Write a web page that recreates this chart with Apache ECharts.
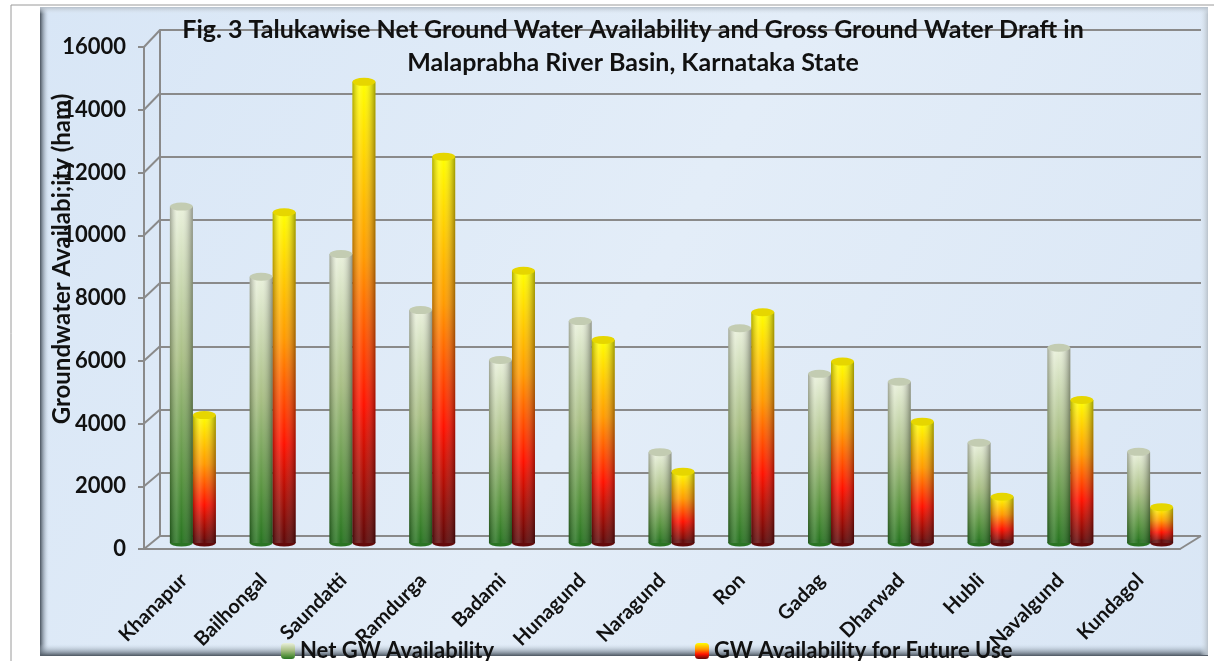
<!DOCTYPE html>
<html>
<head>
<meta charset="utf-8">
<script src="https://cdn.jsdelivr.net/npm/echarts@6/dist/echarts.min.js"></script>
<style>
  html, body { margin: 0; padding: 0; background: #fff; }
  #chart { width: 1214px; height: 661px; }
</style>
</head>
<body>
<div id="chart"></div>
<script>
const talukas = ["Khanapur", "Bailhongal", "Saundatti", "Ramdurga", "Badami", "Hunagund", "Naragund",
  "Ron", "Gadag", "Dharwad", "Hubli", "Navalgund", "Kundagol"];
const netAvailability = [10700, 8470, 9190, 7410, 5820, 7060, 2890, 6830, 5380, 5130, 3190, 6210, 2900];
const futureUse = [4070, 10520, 14670, 12290, 8660, 6460, 2270, 7340, 5770, 3860, 1470, 4550, 1140];
const yTicks = [0, 2000, 4000, 6000, 8000, 10000, 12000, 14000, 16000];

const W = 1214, H = 661;
// pseudo 3d: back wall, front axis, bars in the middle
const BACK = { left: 160, right: 13, top: 30, bottom: 125 };
const FRONT = { left: 144, right: 34, top: 47, bottom: 112 };
const MID = { left: 153, right: 24, top: 40, bottom: 118 };
const gridColor = "#8a8a8a";
const font = "Lato";

function linear(x2, y2, stops) {
  return { type: "linear", x: 0, y: 0, x2: x2, y2: y2, colorStops: stops, global: false };
}
const greenFill = linear(0, 1, [
  { offset: 0, color: "#eaf1dc" },
  { offset: 0.45, color: "#a9bf85" },
  { offset: 0.8, color: "#58933f" },
  { offset: 1, color: "#277420" }
]);
const redFill = linear(0, 1, [
  { offset: 0, color: "#ffff00" },
  { offset: 0.38, color: "#ff9a00" },
  { offset: 0.7, color: "#ff1200" },
  { offset: 1, color: "#5e0808" }
]);
const shade = linear(1, 0, [
  { offset: 0, color: "rgba(0,0,0,0.30)" },
  { offset: 0.3, color: "rgba(255,255,255,0.15)" },
  { offset: 0.5, color: "rgba(255,255,255,0)" },
  { offset: 1, color: "rgba(0,0,0,0.38)" }
]);

const valueAxis = (grid, extra) => Object.assign({
  gridIndex: grid, type: "value", min: 0, max: yTicks[yTicks.length - 1], interval: yTicks[1] - yTicks[0]
}, extra);

let chart = echarts.init(document.getElementById("chart"));
let option = {
  backgroundColor: "#fff",
  animation: false,
  textStyle: { fontFamily: font },
  graphic: [
    { type: "rect", z: -10, shape: { x: 11, y: 5, width: 1300, height: 700 }, style: { fill: "#fff", stroke: "#9a9a9a", lineWidth: 1 } },
    { type: "rect", z: -9, shape: { x: 40, y: 7, width: 1168, height: 648 },
      style: { fill: linear(1, 1, [{ offset: 0, color: "#d8e6f6" }, { offset: 0.5, color: "#e3edf8" }, { offset: 1, color: "#d9e6f5" }]) } },
    // bevel edges
    { type: "rect", z: -8, shape: { x: 40, y: 7, width: 9, height: 648 },
      style: { fill: linear(1, 0, [{ offset: 0, color: "#4a545f" }, { offset: 1, color: "rgba(200,215,230,0)" }]) } },
    { type: "rect", z: -8, shape: { x: 40, y: 644, width: 1168, height: 12 },
      style: { fill: linear(0, 1, [{ offset: 0, color: "rgba(200,215,230,0)" }, { offset: 1, color: "#4a545f" }]) } },
    { type: "rect", z: -8, shape: { x: 1200, y: 7, width: 8, height: 648 },
      style: { fill: linear(1, 0, [{ offset: 0, color: "rgba(220,230,240,0)" }, { offset: 1, color: "#b9c2cb" }]) } },
    { type: "rect", z: -8, shape: { x: 40, y: 7, width: 1168, height: 7 },
      style: { fill: linear(0, 1, [{ offset: 0, color: "#b5bfca" }, { offset: 1, color: "rgba(220,230,240,0)" }]) } },
    { type: "text", z: 10, x: 62, y: 259, rotation: Math.PI / 2,
      style: { text: "Groundwater Availabi;ity (ham)", font: "bold 24px " + font, fill: "#111", align: "center", verticalAlign: "middle" } }
  ],
  title: {
    text: "Fig. 3 Talukawise Net Ground Water Availability and Gross Ground Water Draft in\nMalaprabha River Basin, Karnataka State",
    left: 628, top: 8, textAlign: "center",
    textStyle: { fontFamily: font, fontSize: 25, fontWeight: "bold", color: "#111", lineHeight: 33 }
  },
  legend: [
    { data: ["Net GW Availability"], left: 276, top: 635, itemWidth: 14, itemHeight: 16, itemGap: 4,
      textStyle: { fontFamily: font, fontSize: 22, fontWeight: "bold", color: "#111" } },
    { data: ["GW Availability for Future Use"], left: 690, top: 635, itemWidth: 14, itemHeight: 16,
      textStyle: { fontFamily: font, fontSize: 22, fontWeight: "bold", color: "#111" } }
  ],
  grid: [BACK, FRONT, MID, MID],
  xAxis: [
    { gridIndex: 0, type: "category", data: talukas, show: false },
    { gridIndex: 1, type: "category", data: talukas,
      axisLine: { show: true, lineStyle: { color: gridColor, width: 2 } },
      axisTick: { show: false },
      axisLabel: { interval: 0, rotate: 45, margin: 28, fontFamily: font, fontSize: 20, fontWeight: "bold", color: "#111" } },
    { gridIndex: 1, type: "value", min: 0, max: 1, show: false },
    { gridIndex: 2, type: "category", data: talukas, show: false },
    { gridIndex: 3, type: "category", data: talukas, show: false }
  ],
  yAxis: [
    valueAxis(0, {
      axisLine: { show: true, lineStyle: { color: gridColor, width: 2 } },
      axisTick: { show: false }, axisLabel: { show: false },
      splitLine: { show: true, lineStyle: { color: gridColor, width: 2 } }
    }),
    valueAxis(1, {
      axisLine: { show: true, lineStyle: { color: gridColor, width: 2 } },
      axisTick: { show: true, length: 6, lineStyle: { color: gridColor, width: 2 } },
      axisLabel: { margin: 18, fontFamily: font, fontSize: 22, fontWeight: "bold", color: "#111",
        formatter: (v) => String(v) },
      splitLine: { show: false }
    }),
    valueAxis(2, { show: false }),
    valueAxis(3, { show: false })
  ],
  series: [
    {
      // diagonal edges joining front axis with back wall
      type: "custom", xAxisIndex: 2, yAxisIndex: 1, silent: true, clip: false, z: 1,
      data: yTicks.map((v) => [0, v]),
      renderItem: function (params, api) {
        const v = api.value(1);
        const p = api.coord([0, v]);
        const fh = H - FRONT.top - FRONT.bottom;
        const bh = H - BACK.top - BACK.bottom;
        const by = BACK.top + ((p[1] - FRONT.top) / fh) * bh;
        const st = { stroke: gridColor, lineWidth: 2 };
        const kids = [{ type: "line", shape: { x1: p[0], y1: p[1], x2: BACK.left, y2: by }, style: st }];
        if (v === 0) {
          const q = api.coord([1, 0]);
          kids.push({ type: "line", shape: { x1: q[0], y1: q[1], x2: W - BACK.right, y2: by }, style: st });
        }
        return { type: "group", children: kids };
      }
    },
    { name: "Net GW Availability", type: "bar", xAxisIndex: 3, yAxisIndex: 2, barWidth: 23, barGap: "0%", z: 2,
      itemStyle: { color: greenFill }, data: netAvailability },
    { name: "GW Availability for Future Use", type: "bar", xAxisIndex: 3, yAxisIndex: 2, barWidth: 23, barGap: "0%", z: 2,
      itemStyle: { color: redFill }, data: futureUse },
    // cylinder shading
    { name: "shadeA", type: "bar", xAxisIndex: 4, yAxisIndex: 3, barWidth: 23, barGap: "0%", z: 3, silent: true,
      itemStyle: { color: shade }, data: netAvailability },
    { name: "shadeB", type: "bar", xAxisIndex: 4, yAxisIndex: 3, barWidth: 23, barGap: "0%", z: 3, silent: true,
      itemStyle: { color: shade }, data: futureUse },
    // bottom ellipses
    { name: "baseA", type: "pictorialBar", xAxisIndex: 4, yAxisIndex: 3, barWidth: 23, barGap: "0%", z: 3, silent: true,
      symbol: "circle", symbolSize: [23, 7], symbolPosition: "start", symbolOffset: [0, "50%"],
      itemStyle: { color: "#2b7424" }, data: netAvailability },
    { name: "baseB", type: "pictorialBar", xAxisIndex: 4, yAxisIndex: 3, barWidth: 23, barGap: "0%", z: 3, silent: true,
      symbol: "circle", symbolSize: [23, 7], symbolPosition: "start", symbolOffset: [0, "50%"],
      itemStyle: { color: "#640b0b" }, data: futureUse },
    // top ellipses
    { name: "topA", type: "pictorialBar", xAxisIndex: 3, yAxisIndex: 2, barWidth: 23, barGap: "0%", z: 5, silent: true,
      symbol: "circle", symbolSize: [23, 8], symbolPosition: "end", symbolOffset: [0, "-50%"],
      itemStyle: { color: "#c3ccb2" }, data: netAvailability },
    { name: "topB", type: "pictorialBar", xAxisIndex: 3, yAxisIndex: 2, barWidth: 23, barGap: "0%", z: 5, silent: true,
      symbol: "circle", symbolSize: [23, 8], symbolPosition: "end", symbolOffset: [0, "-50%"],
      itemStyle: { color: "#e6d600" }, data: futureUse }
  ]
};
chart.setOption(option);
</script>
</body>
</html>
